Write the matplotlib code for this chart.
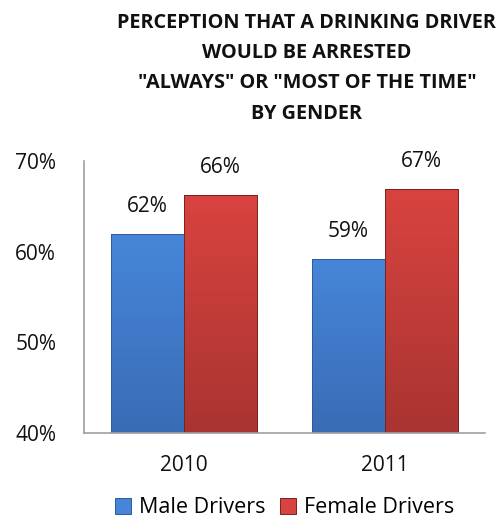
import numpy as np
import matplotlib
matplotlib.use("Agg")
from matplotlib import pyplot as plt
from matplotlib.colors import LinearSegmentedColormap

plt.rcParams['font.family'] = ['Open Sans', 'DejaVu Sans']

years = ["2010", "2011"]
male = [62.0, 59.2]
female = [66.3, 66.9]
series = ["Male Drivers", "Female Drivers"]
title = 'PERCEPTION THAT A DRINKING DRIVER\nWOULD BE ARRESTED\n"ALWAYS" OR "MOST OF THE TIME"\nBY GENDER'
base = 40

blue = ("#4686d8", "#3a6cb6")
red = ("#d9433f", "#a93431")


def shade(ax, bars, cols):
    """Paint a vertical gradient into each bar"""
    cmap = LinearSegmentedColormap.from_list("g", [cols[0], cols[1]])
    grad = np.linspace(0, 1, 100).reshape(-1, 1)
    for b in bars:
        x, y = b.get_x(), b.get_y()
        w, h = b.get_width(), b.get_height()
        im = ax.imshow(grad, cmap=cmap, aspect="auto",
                       extent=(x, x + w, y, y + h), zorder=2)
        im.set_clip_path(b)
        b.set_facecolor("none")


fig = plt.figure(figsize=(5.03, 5.19), dpi=100)
ax = fig.add_axes([0.167, 0.1657, 0.797, 0.524])

x = np.arange(len(years))
w = 0.365
b1 = ax.bar(x - w / 2, np.array(male) - base, w, bottom=base, color=blue[1],
            edgecolor="#2d5a9a", linewidth=0.7, label=series[0], zorder=3)
b2 = ax.bar(x + w / 2, np.array(female) - base, w, bottom=base, color=red[1],
            edgecolor="#7a2220", linewidth=0.7, label=series[1], zorder=3)
shade(ax, b1, blue)
shade(ax, b2, red)

for bars, vals in ((b1, male), (b2, female)):
    for b, v in zip(bars, vals):
        ax.text(b.get_x() + b.get_width() / 2, v + 3.0, "%d%%" % round(v),
                ha="center", va="center", fontsize=15, color="#111111")

ax.set_xlim(-0.5, 1.5)
ax.set_ylim(40, 70)
ax.set_yticks([40, 50, 60, 70])
ax.set_yticklabels(["40%", "50%", "60%", "70%"])
ax.set_xticks(x)
ax.set_xticklabels(years)
ax.tick_params(length=0, labelsize=15, colors="#111111")
ax.tick_params(axis="y", pad=20)
ax.tick_params(axis="x", pad=16)
for s in ("top", "right"):
    ax.spines[s].set_visible(False)
for s in ("left", "bottom"):
    ax.spines[s].set_color("#a0a0a0")
    ax.spines[s].set_linewidth(1.2)
    ax.spines[s].set_zorder(4)

fig.text(0.61, 0.975, title, ha="center", va="top", fontsize=14.3,
         fontweight="bold", linespacing=1.68, color="#111111")

ax.legend(handles=[b1[0], b2[0]], labels=series, loc="center",
          bbox_to_anchor=(0.5, -0.275), ncol=2, frameon=False,
          fontsize=15.5, handlelength=0.75, handleheight=0.75,
          handletextpad=0.35, columnspacing=0.7, borderaxespad=0)
# legend patches lose the gradient, give them a fill
leg = ax.get_legend()
for p, c in zip(leg.get_patches(), (blue[0], red[0])):
    p.set_facecolor(c)

fig.savefig("out.png", dpi=100)
